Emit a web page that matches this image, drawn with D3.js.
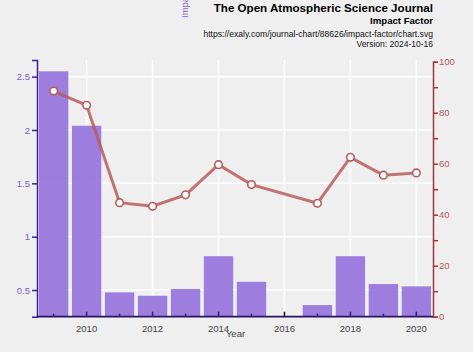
<!DOCTYPE html>
<html><head><meta charset="utf-8">
<script src="https://cdn.jsdelivr.net/npm/d3@7"></script>
<style>body{margin:0;background:#fff;}svg{display:block;font-family:"Liberation Sans",Arial,sans-serif;}</style>
</head><body>
<svg id="c" width="474" height="355"></svg>
<script>
const years = [2009,2010,2011,2012,2013,2014,2015,2016,2017,2018,2019,2020];
const impactFactor = [2.55,2.04,0.478,0.446,0.51,0.817,0.577,null,0.359,0.817,0.556,0.534];
const percentile = [88.5,82.9,44.7,43.3,47.8,59.6,51.8,null,44.5,62.5,55.5,56.4];
const leftTicks = [0.5,1,1.5,2,2.5];
const rightTicks = [0,10,20,30,40,50,60,70,80,90,100];
const labelYears = [2010,2012,2014,2016,2018,2020];
const titleText = "The Open Atmospheric Science Journal";
const subtitleText = "Impact Factor";
const urlText = "https://exaly.com/journal-chart/88626/impact-factor/chart.svg";
const versionText = "Version: 2024-10-16";

const FF = "Liberation Sans, Arial, sans-serif";
const svg = d3.select("#c");
svg.append("rect").attr("width",473).attr("height",352).attr("fill","#efefef");

const L=37,R=433,T=60,B=316.7;
const x = d3.scaleBand().domain(years).range([L,R]).paddingInner(0.11).paddingOuter(0.06);
const yL = d3.scaleLinear().domain([0.25,2.656]).range([B,T]);
const yR = d3.scaleLinear().domain([0,100]).range([B,61.7]);
const cx = d => x(d)+x.bandwidth()/2;

// grid
const g = svg.append("g");
g.selectAll(".hg").data(leftTicks).enter().append("line")
  .attr("x1",L).attr("x2",R).attr("y1",d=>yL(d)).attr("y2",d=>yL(d))
  .attr("stroke","#fff").attr("stroke-width",1.5);
g.selectAll(".vg").data(labelYears).enter().append("line")
  .attr("x1",d=>cx(d)).attr("x2",d=>cx(d)).attr("y1",T).attr("y2",B)
  .attr("stroke","#fff").attr("stroke-width",1.5);

// bars
const barData = years.map((y,i)=>({y,v:impactFactor[i]})).filter(d=>d.v!=null);
svg.append("g").selectAll("rect").data(barData).enter().append("rect")
  .attr("x",d=>x(d.y)).attr("width",x.bandwidth())
  .attr("y",d=>yL(d.v)).attr("height",d=>B-yL(d.v))
  .attr("fill","#9370DB").attr("fill-opacity",0.9);

// line
const lineData = years.map((y,i)=>({y,v:percentile[i]})).filter(d=>d.v!=null);
svg.append("path").datum(lineData)
  .attr("d",d3.line().x(d=>cx(d.y)).y(d=>yR(d.v)))
  .attr("fill","none").attr("stroke","#b85c5c").attr("stroke-opacity",0.85).attr("stroke-width",3);
svg.append("g").selectAll("circle").data(lineData).enter().append("circle")
  .attr("cx",d=>cx(d.y)).attr("cy",d=>yR(d.v)).attr("r",3.8)
  .attr("fill","#fff").attr("stroke","#b85c5c").attr("stroke-width",1.6);

// left axis
const la = svg.append("g").attr("transform",`translate(${L},0)`)
  .call(d3.axisLeft(yL).tickValues(leftTicks).tickFormat(d3.format("")).tickSize(5).tickPadding(2));
la.select(".domain").attr("stroke","#3a1fa0").attr("stroke-width",1.5);
la.selectAll(".tick line").attr("stroke","#3a1fa0").attr("stroke-width",1.5);
la.selectAll("text").attr("fill","#7b5ccf").attr("font-size",9.5).attr("font-family",FF);

// right axis
const ra = svg.append("g").attr("transform",`translate(${R},0)`)
  .call(d3.axisRight(yR).tickValues(rightTicks).tickFormat(d=>d%20===0?d:"").tickSize(5).tickPadding(1));
ra.select(".domain").attr("stroke","#a03838").attr("stroke-width",1.5);
ra.selectAll(".tick line").attr("stroke","#a03838").attr("stroke-width",1.5);
ra.selectAll("text").attr("fill","#b05a5a").attr("font-size",9.5).attr("font-family",FF);

// bottom axis
svg.append("line").attr("x1",L).attr("x2",R).attr("y1",B).attr("y2",B).attr("stroke","#2a1460").attr("stroke-width",1.8);
svg.append("g").selectAll("line").data(years).enter().append("line")
  .attr("x1",d=>cx(d)).attr("x2",d=>cx(d)).attr("y1",B).attr("y2",d=>B-(d%2===0?5:3))
  .attr("stroke",d=>impactFactor[years.indexOf(d)]==null?"#111":"#3a1a80").attr("stroke-width",1.5);
svg.append("g").selectAll("text").data(labelYears).enter().append("text")
  .attr("x",d=>cx(d)).attr("y",332).attr("text-anchor","middle")
  .attr("font-size",9.5).attr("fill","#444").text(d=>d);
svg.append("text").attr("x",235.5).attr("y",337).attr("text-anchor","middle")
  .attr("font-size",9.5).attr("fill","#444").text("Year");

// y label (mostly clipped)
svg.append("text").attr("transform","translate(188,18) rotate(-90)")
  .attr("text-anchor","start").attr("font-size",9.5).attr("fill","#8a66d8").text(subtitleText);

// titles
svg.append("text").attr("x",433).attr("y",12).attr("text-anchor","end")
  .attr("font-size",11.6).attr("font-weight","bold").attr("fill","#000").text(titleText);
svg.append("text").attr("x",433).attr("y",24).attr("text-anchor","end")
  .attr("font-size",9.6).attr("font-weight","bold").attr("fill","#000").text(subtitleText);
svg.append("text").attr("x",433).attr("y",36.5).attr("text-anchor","end")
  .attr("font-size",8.6).attr("fill","#111").text(urlText);
svg.append("text").attr("x",433).attr("y",47).attr("text-anchor","end")
  .attr("font-size",8.5).attr("fill","#111").text(versionText);
</script>
</body></html>
